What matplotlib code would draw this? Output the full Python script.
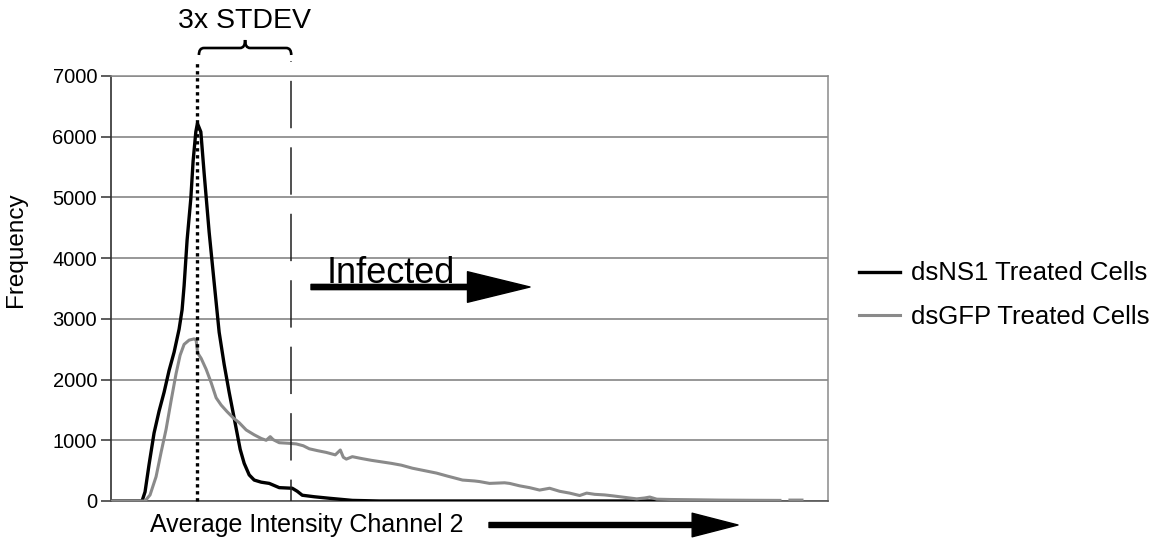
import numpy as np
import matplotlib
matplotlib.use("Agg")
import matplotlib.pyplot as plt
from matplotlib.path import Path
from matplotlib.patches import PathPatch, FancyArrowPatch
from matplotlib.transforms import blended_transform_factory

plt.rcParams['font.family'] = ['Liberation Sans', 'DejaVu Sans']

# ---------------- data ----------------
series_names = ["dsNS1 Treated Cells", "dsGFP Treated Cells"]

ns1_x = [0, 31, 34, 38, 43, 48, 53, 58, 63, 68, 71, 73, 76, 79.7, 82, 84.7, 86.3,
         89.7, 93, 98, 103, 108, 113, 118, 124.7, 129, 133, 138, 143, 150, 158,
         168, 181, 186, 191, 203, 218, 241, 268, 650]
ns1_y = [0, 0, 150, 600, 1120, 1480, 1790, 2150, 2450, 2830, 3150, 3545, 4300,
         4980, 5600, 6080, 6220, 6080, 5400, 4430, 3600, 2780, 2250, 1790, 1220,
         850, 620, 430, 345, 310, 290, 220, 210, 160, 95, 70, 45, 10, 0, 0]

gfp_x = [0, 34, 39, 45, 50, 55, 60, 65, 69, 73, 78, 83, 85, 86.5, 90, 95, 100,
         105, 110, 116, 122, 128, 135, 143, 150, 155, 159, 162, 168, 178, 185,
         192, 198, 206, 215, 224, 229, 232, 235, 241, 250, 260, 268, 280, 290,
         301, 313, 325, 336, 343, 351, 363, 368, 378, 393, 398, 408, 418, 428,
         438, 448, 458, 468, 475, 483, 493, 501, 513, 525, 533, 538, 545, 558,
         585, 608, 638, 668, 673, 678, 690]
gfp_y = [0, 0, 100, 400, 800, 1180, 1650, 2100, 2400, 2580, 2650, 2670, 2650,
         2440, 2350, 2170, 1950, 1700, 1580, 1470, 1370, 1290, 1170, 1090, 1030,
         1000, 1060, 1010, 960, 950, 940, 910, 860, 830, 800, 760, 840, 720, 690,
         730, 700, 670, 650, 620, 590, 540, 500, 460, 410, 380, 345, 330, 320,
         290, 300, 290, 250, 220, 180, 210, 160, 130, 90, 130, 110, 100, 85, 60,
         35, 50, 65, 30, 25, 20, 15, 12, 10, np.nan, 15, 15]

peak_x = 86.3        # mean of control population (dotted line)
threshold_x = 180.0  # mean + 3x STDEV (dashed line)

y_ticks = [0, 1000, 2000, 3000, 4000, 5000, 6000, 7000]
x_limits = (0, 716)

# ---------------- figure ----------------
W, H = 1156, 542
fig = plt.figure(figsize=(W / 100, H / 100), dpi=100)
fig.patch.set_facecolor('white')

def fx(px):
    return px / W

def fy(py):
    return 1 - py / H

ax = fig.add_axes([fx(111), fy(501), fx(828) - fx(111), fy(76) - fy(501)])
ax.set_xlim(*x_limits)
ax.set_ylim(0, 7000)
ax.set_yticks(y_ticks)
ax.set_yticklabels([str(t) for t in y_ticks], fontsize=14.5)
ax.set_xticks([])
ax.tick_params(axis='y', length=7, width=1.1, color='#303030', pad=3)
ax.yaxis.grid(True, color='#7a7a7a', linewidth=1.1)
ax.set_axisbelow(True)
for s in ['top', 'right']:
    ax.spines[s].set_color('#8a8a8a')
    ax.spines[s].set_linewidth(1.1)
ax.spines['left'].set_color('#303030')
ax.spines['left'].set_linewidth(1.2)
ax.spines['bottom'].set_color('#555555')
ax.spines['bottom'].set_linewidth(1.2)

# curves
ax.plot(ns1_x, ns1_y, color='black', linewidth=2.4, label=series_names[0],
        solid_joinstyle='round', zorder=3)
ax.plot(gfp_x, gfp_y, color='#8a8a8a', linewidth=2.2, label=series_names[1],
        solid_joinstyle='round', zorder=4)

# vertical reference lines (extend above the plot)
top_frac = (501 - 61) / (501 - 76)
ax.axvline(peak_x, ymin=0, ymax=top_frac, color='black', linewidth=2.4,
           linestyle=(0, (1, 1.1)), clip_on=False, zorder=5)
ax.axvline(threshold_x, ymin=0, ymax=top_frac, color='#202020', linewidth=1.1,
           linestyle=(17, (31, 12.5)), clip_on=False, zorder=5)

# curly brace between the two lines
bt = blended_transform_factory(ax.transData, fig.transFigure)
x0, x1 = peak_x + 1.5, threshold_x
xm = (x0 + x1) / 2
yb, yh, yt = fy(55), fy(48), fy(40)
r = 5
verts = [(x0, yb), (x0, yh), (x0 + r, yh),
         (xm - r, yh), (xm, yh), (xm, yt),
         (xm, yh), (xm + r, yh),
         (x1 - r, yh), (x1, yh), (x1, yb)]
codes = [Path.MOVETO, Path.CURVE3, Path.CURVE3,
         Path.LINETO, Path.CURVE3, Path.CURVE3,
         Path.CURVE3, Path.CURVE3,
         Path.LINETO, Path.CURVE3, Path.CURVE3]
brace = PathPatch(Path(verts, codes), transform=bt, fill=False,
                  edgecolor='black', linewidth=1.9, clip_on=False)
fig.add_artist(brace)

fig.text(fx(245), fy(28.5), "3x STDEV", fontsize=20.5, ha='center',
         va='baseline')

# Infected arrow
fig.text(fx(327), fy(283), "Infected", fontsize=26, ha='left', va='baseline')
arr1 = FancyArrowPatch(posA=(fx(311), fy(287)), posB=(fx(530), fy(287)),
                       transform=fig.transFigure,
                       arrowstyle="simple,head_length=45,head_width=22,tail_width=3.8",
                       mutation_scale=1, color='black', shrinkA=0, shrinkB=0)
fig.add_artist(arr1)

# x-axis label with arrow
fig.text(fx(150), fy(532), "Average Intensity Channel 2", fontsize=18,
         ha='left', va='baseline')
arr2 = FancyArrowPatch(posA=(fx(489), fy(525)), posB=(fx(738), fy(525)),
                       transform=fig.transFigure,
                       arrowstyle="simple,head_length=33,head_width=17,tail_width=3.6",
                       mutation_scale=1, color='black', shrinkA=0, shrinkB=0)
fig.add_artist(arr2)

# y label
fig.text(fx(16), fy(250), "Frequency", fontsize=17.5, rotation=90,
         ha='center', va='center')

# legend
fig.legend(loc='center left', bbox_to_anchor=(fx(859), fy(295)),
           frameon=False, fontsize=18.5, handlelength=1.6, handletextpad=0.42,
           labelspacing=0.74, borderpad=0, borderaxespad=0)

fig.savefig("out.png", dpi=100, facecolor='white')
